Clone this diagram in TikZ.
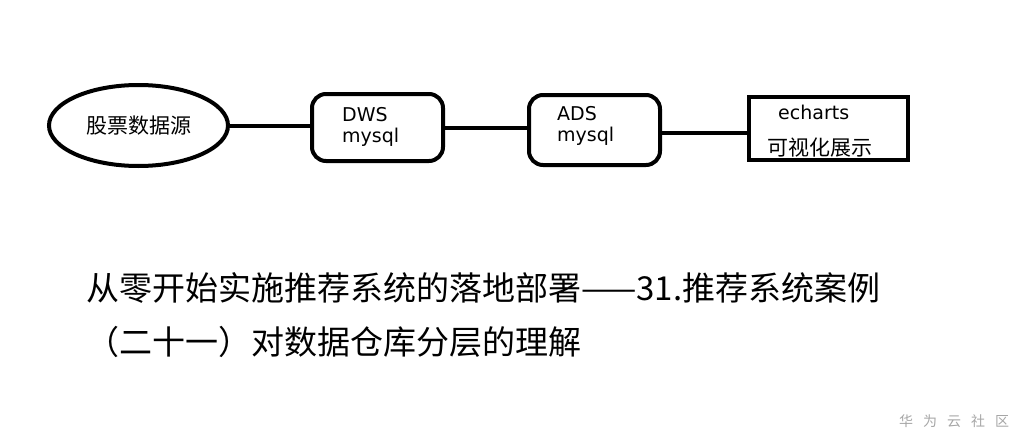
\documentclass[tikz,border=0pt]{standalone}
\usepackage{fontspec}
\setmainfont{Noto Sans CJK SC}
\newfontfamily\latinfont{DejaVu Sans}
\usetikzlibrary{shapes.geometric,positioning}
\tikzset{
  stage/.style={draw,line width=4pt,rounded corners=14pt,inner sep=0pt},
  sinkbox/.style={draw,line width=4pt,inner sep=0pt},
  link/.style={line width=4pt},
  boxtext/.style={font=\latinfont\fontsize{19}{21}\selectfont,align=left,inner sep=0pt},
  cjktext/.style={font=\fontsize{21}{21}\selectfont,inner sep=0pt},
  heading/.style={font=\fontsize{33}{33}\selectfont,inner sep=0pt,anchor=base west},
}
\begin{document}
\begin{tikzpicture}[x=1pt,y=-1pt]
\useasboundingbox (0,0) rectangle (1022,447);
{
% Marking source by ellipse
\node[ellipse,draw,line width=4pt,minimum width=179pt,minimum height=81pt,cjktext] (src) at (138.5,125.5) {股票数据源};%

% Marking box DWS
\node[stage,minimum width=131pt,minimum height=67pt] (dws) at (377.5,127.5) {};%
\node[boxtext,anchor=west] (dwstext) at (342,127) {DWS\\mysql};%

% Marking box ADS
\node[stage,minimum width=131pt,minimum height=70pt] (ads) at (594.5,130) {};%
\node[boxtext,anchor=west] (adstext) at (557,126) {ADS\\mysql};%

% Marking box echarts
\node[sinkbox,minimum width=159pt,minimum height=63pt] (show) at (828.5,128.5) {};%
\node[boxtext,anchor=west] (showtop) at (778,112) {echarts};%
\node[cjktext,anchor=west] (showbottom) at (767,148) {可视化展示};%

% Drawing segment src dws
\draw [link] (src.east) -- (src.east -| dws.west);%

% Drawing segment dws ads
\draw [link] (dws.east) -- (dws.east -| ads.west);%

% Drawing segment ads show
\draw [link] ([yshift=-3pt]ads.east) -- ([yshift=-3pt]ads.east -| show.west);%

% Marking title lines
\node[heading] (title1) at (86,300) {从零开始实施推荐系统的落地部署——31.推荐系统案例};%
\node[heading] (title2) at (86,354) {（二十一）对数据仓库分层的理解};%

% Changing color to gray
\node[anchor=west,text=black!35,font=\fontsize{14}{14}\selectfont,inner sep=0pt] (mark) at (899,421) {华\hspace{10pt}为\hspace{10pt}云\hspace{10pt}社\hspace{10pt}区};%
}
\end{tikzpicture}
\end{document}
